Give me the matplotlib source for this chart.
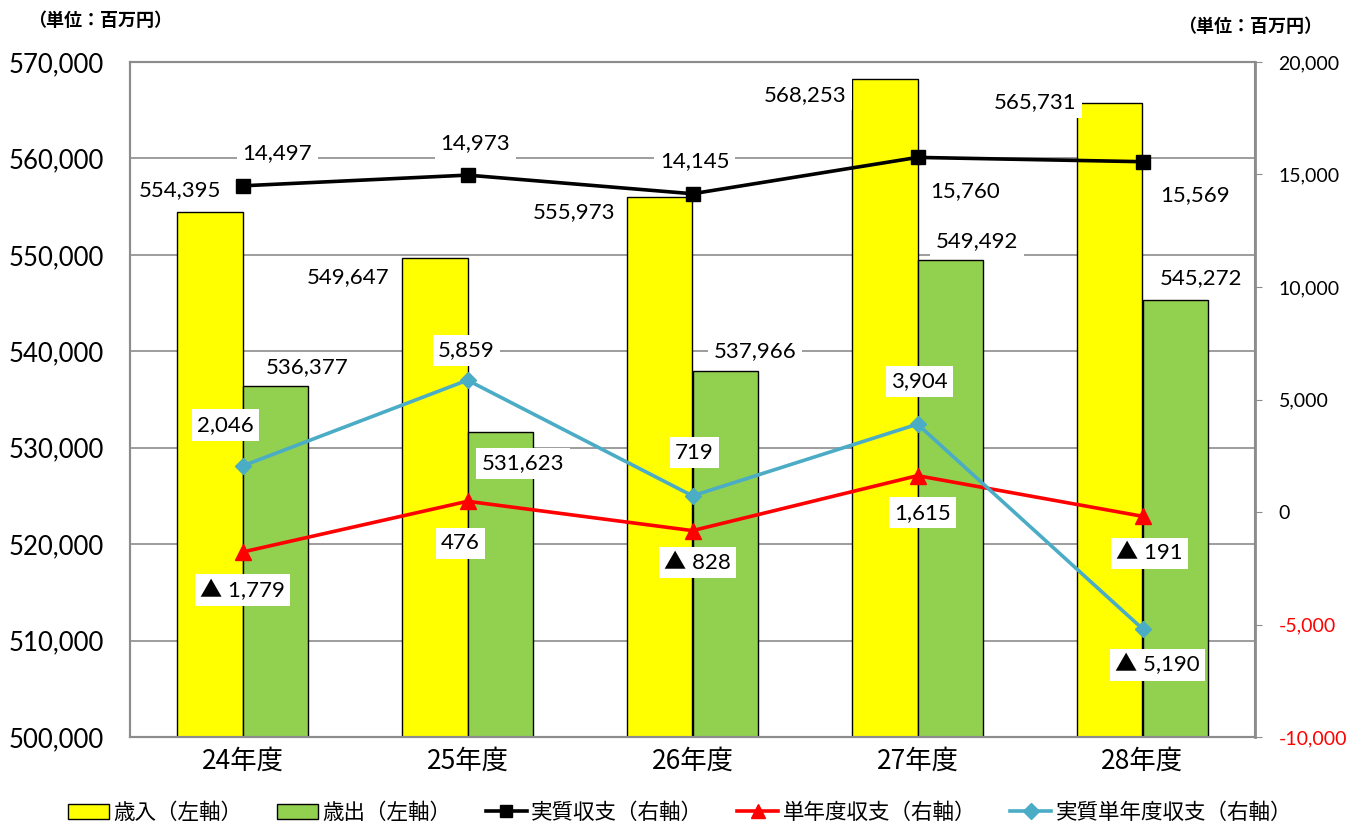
import matplotlib
matplotlib.use("Agg")
import matplotlib.pyplot as plt
from matplotlib.ticker import FuncFormatter, MultipleLocator
from matplotlib.lines import Line2D
from matplotlib.patches import Patch
import numpy as np

categories = ["24年度", "25年度", "26年度", "27年度", "28年度"]
revenue = [554395, 549647, 555973, 568253, 565731]
expenditure = [536377, 531623, 537966, 549492, 545272]
real_balance = [14497, 14973, 14145, 15760, 15569]
single_balance = [-1779, 476, -828, 1615, -191]
real_single_balance = [2046, 5859, 719, 3904, -5190]

NUM = ["Lato", "Noto Sans CJK JP", "DejaVu Sans"]
CJK = ["Noto Sans CJK JP", "DejaVu Sans"]
plt.rcParams["font.family"] = NUM

W, H = 1347, 825
fig = plt.figure(figsize=(W / 100, H / 100), dpi=100)
ax = fig.add_axes([130 / W, 1 - 737 / H, (1255 - 130) / W, (737 - 62) / H])
ax2 = ax.twinx()

x = np.arange(len(categories))
bw = 0.289
ax.bar(x - bw / 2, revenue, bw, color="#FFFF00", edgecolor="black", linewidth=1, zorder=2)
ax.bar(x + bw / 2, expenditure, bw, color="#92D050", edgecolor="black", linewidth=1, zorder=2)
ax.set_ylim(500000, 570000)
ax.set_xlim(-0.5, len(categories) - 0.5)
ax.yaxis.set_major_locator(MultipleLocator(10000))
ax.yaxis.set_major_formatter(FuncFormatter(lambda v, p: f"{int(v):,}"))
ax.grid(axis="y", color="#8c8c8c", linewidth=1.2, zorder=0)
ax.set_axisbelow(True)
ax.tick_params(axis="y", labelsize=18.5, length=0, pad=19)
ax.set_xticks(x)
ax.set_xticklabels(categories, fontsize=19, family=CJK)
ax.tick_params(axis="x", length=0, pad=8)

ax2.plot(x, real_balance, color="black", linewidth=2.6, marker="s", markersize=10, zorder=5)
ax2.plot(x, single_balance, color="#FF0000", linewidth=2.6, marker="^", markersize=11, zorder=5)
ax2.plot(x, real_single_balance, color="#4BACC6", linewidth=2.6, marker="D", markersize=8, zorder=5)
ax2.set_ylim(-10000, 20000)
ax2.yaxis.set_major_locator(MultipleLocator(5000))
ax2.yaxis.set_major_formatter(FuncFormatter(lambda v, p: f"{int(v):,}"))
ax2.tick_params(axis="y", labelsize=14, length=5, color="#8c8c8c", pad=12)
for lbl, v in zip(ax2.get_yticklabels(), ax2.get_yticks()):
    if v < 0:
        lbl.set_color("#FF0000")

for a in (ax, ax2):
    for s in a.spines.values():
        s.set_color("#8c8c8c")
        s.set_linewidth(1.5)
for s in ax2.spines.values():
    s.set_zorder(20)
ax2.spines["right"].set_linewidth(2)

def fmt(v):
    return f"▲ {abs(v):,}" if v < 0 else f"{v:,}"

bbox = dict(boxstyle="square,pad=0.25", fc="white", ec="none")

def label(axis, xv, yv, off, text):
    axis.annotate(text, (xv, yv), xytext=off, textcoords="offset pixels",
                  ha="center", va="center", fontsize=16, bbox=bbox, zorder=10,
                  annotation_clip=False)

def left_to_right(v):
    return ax2.transData.inverted().transform(ax.transData.transform((0, v)))[1]

rev_off = [(-30, 22), (-87, -19), (-86, -15), (-80, -16), (-75, 1)]
exp_off = [(32, 19), (23, -31), (30, 20), (27, 19), (26, 22)]
rb_off = [(35, 33), (8, 32), (2, 33), (48, -34), (53, -33)]
sb_off = [(0, -38), (-7, -42), (5, -32), (5, -37), (7, -37)]
rsb_off = [(-17, 41), (-1, 30), (2, 43), (2, 43), (15, -36)]

for i in range(len(categories)):
    label(ax2, x[i] - bw / 2, left_to_right(revenue[i]), rev_off[i], fmt(revenue[i]))
    label(ax2, x[i] + bw / 2, left_to_right(expenditure[i]), exp_off[i], fmt(expenditure[i]))
    label(ax2, x[i], real_balance[i], rb_off[i], fmt(real_balance[i]))
    label(ax2, x[i], single_balance[i], sb_off[i], fmt(single_balance[i]))
    label(ax2, x[i], real_single_balance[i], rsb_off[i], fmt(real_single_balance[i]))

fig.text(100 / W, 1 - 20 / H, "（単位：百万円）", ha="center", va="center", fontsize=13,
         fontweight="bold", family=CJK)
fig.text(1250 / W, 1 - 27 / H, "（単位：百万円）", ha="center", va="center", fontsize=13,
         fontweight="bold", family=CJK)

handles = [
    Patch(facecolor="#FFFF00", edgecolor="black", linewidth=1),
    Patch(facecolor="#92D050", edgecolor="black", linewidth=1),
    Line2D([], [], color="black", linewidth=2.6, marker="s", markersize=9),
    Line2D([], [], color="#FF0000", linewidth=2.6, marker="^", markersize=10),
    Line2D([], [], color="#4BACC6", linewidth=2.6, marker="D", markersize=8),
]
names = ["歳入（左軸）", "歳出（左軸）", "実質収支（右軸）", "単年度収支（右軸）", "実質単年度収支（右軸）"]
fig.legend(handles, names, loc="center", bbox_to_anchor=(0.505, 1 - 813 / H), ncol=5,
           frameon=False, prop={"family": CJK, "size": 15.5}, handlelength=1.9,
           handleheight=0.75, handletextpad=0.2, columnspacing=1.6)

fig.savefig("out.png", dpi=100)
